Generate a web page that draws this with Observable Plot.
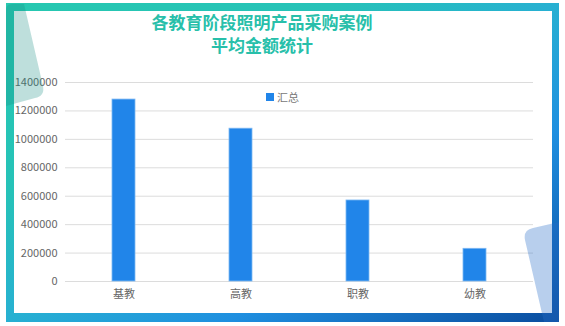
<!DOCTYPE html>
<html>
<head>
<meta charset="utf-8">
<script src="https://cdn.jsdelivr.net/npm/d3@7"></script>
<script src="https://cdn.jsdelivr.net/npm/@observablehq/plot@0.6"></script>
<style>
  html, body { margin: 0; padding: 0; background: #fff; }
  body { width: 565px; height: 326px; position: relative; overflow: hidden; font-family: "Noto Sans CJK SC", "Noto Sans", sans-serif; }
  #frame { position: absolute; left: 6px; top: 3px; width: 553px; height: 319px;
    background: linear-gradient(to bottom right, #26C8B0 0%, #26C2B8 30%, #27B0D2 50%, #1F8FE0 70%, #0A4C9E 100%); }
  #inner { position: absolute; left: 14px; top: 11px; width: 538px; height: 302px; background: #fff; }
  #deco { position: absolute; left: 0; top: 0; }
  .title { position: absolute; left: 0; width: 524px; text-align: center; color: #28BFAA;
    font-weight: bold; font-size: 17px; line-height: 20px; }
  #t1 { top: 12px; }
  #t2 { top: 35px; }
  #legend { position: absolute; left: 266px; top: 89px; font-size: 11px; color: #777; display: flex; align-items: center; }
  #legend span.sw { display: inline-block; width: 8px; height: 8px; background: #2185E9; margin-right: 3px; }
  #chart { position: absolute; left: 0; top: 70px; }
</style>
</head>
<body>
<div id="frame"></div>
<div id="inner"></div>
<div id="chart"></div>
<svg id="deco" width="565" height="326">
  <path d="M6,10 Q6,4 12,4 L24,4 L43,86 Q45,96 35,98 L6,106 Z" fill="rgba(20,140,130,0.28)"/>
  <path d="M525,240 Q523,230 533,228 L559,222 L559,322 L544,322 Z" fill="rgba(40,110,200,0.33)"/>
</svg>
<div class="title" id="t1">各教育阶段照明产品采购案例</div>
<div class="title" id="t2">平均金额统计</div>
<div id="legend"><span class="sw"></span>汇总</div>
<script>
const categories = ["基教", "高教", "职教", "幼教"];
const values = [1280000, 1075000, 570000, 230000];
const yTicks = [0, 200000, 400000, 600000, 800000, 1000000, 1200000, 1400000];

const data = categories.map((c, i) => ({category: c, value: values[i]}));

const chart = Plot.plot({
  width: 565,
  height: 240,
  marginLeft: 65,
  marginRight: 32,
  marginTop: 12,
  marginBottom: 29,
  style: {fontFamily: '"Noto Sans CJK SC", "Noto Sans", sans-serif', fontSize: "11px", color: "#666", background: "transparent"},
  x: {domain: categories, paddingInner: 0.8, paddingOuter: 0.4, label: null},
  y: {domain: [0, 1400000], ticks: yTicks, label: null},
  marks: [
    Plot.ruleY(yTicks, {stroke: "#dcdcdc", strokeWidth: 1}),
    Plot.barY(data, {x: "category", y: "value", fill: "#2185E9", stroke: "#7db8f2", strokeWidth: 0.8}),
    Plot.axisY({ticks: yTicks, tickSize: 0, tickPadding: 8, tickFormat: d => String(d), fill: "#666", fontSize: 11, label: null}),
    Plot.axisX({tickSize: 0, tickPadding: 9, fill: "#666", fontSize: 11, label: null})
  ]
});
document.getElementById("chart").appendChild(chart);
</script>
</body>
</html>
